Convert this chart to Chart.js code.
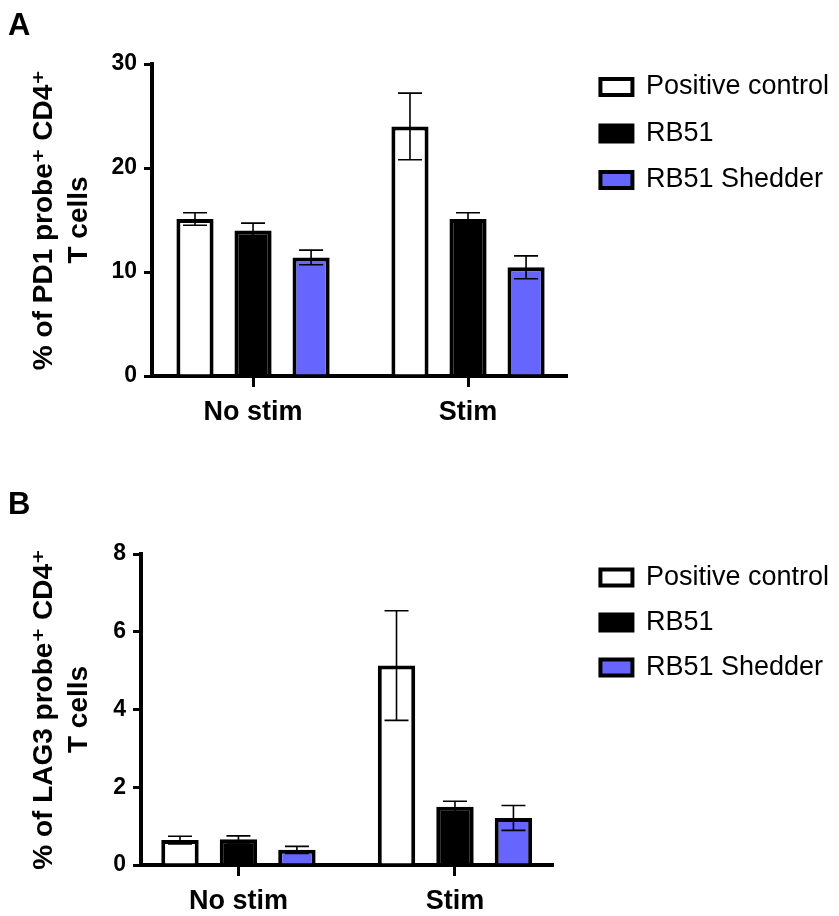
<!DOCTYPE html>
<html>
<head>
<meta charset="utf-8">
<script src="https://cdn.jsdelivr.net/npm/chart.js@4.4.1/dist/chart.umd.min.js"></script>
<style>
  body { margin: 0; background: #fff; font-family: 'Liberation Sans', Arial, sans-serif; }
  .panel { position: absolute; left: 0; width: 839px; height: 458px; }
  .letter { position: absolute; left: 8px; font-weight: bold; font-size: 31px; line-height: 1; color: #000; }
</style>
</head>
<body>
<div class="panel" style="top:0"><canvas id="chartA"></canvas></div>
<div class="panel" style="top:458px"><canvas id="chartB"></canvas></div>
<div class="letter" style="top:9px">A</div>
<div class="letter" style="top:488px">B</div>

<script>
const categories = ['No stim', 'Stim'];
const seriesNames = ['Positive control', 'RB51', 'RB51 Shedder'];
const seriesFill = ['#ffffff', '#000000', '#6666ff'];

// panel A: PD1
const pd1Positive = [15.1, 24.0];
const pd1PositiveSem = [0.6, 3.2];
const pd1Rb51 = [14.0, 15.1];
const pd1Rb51Sem = [0.7, 0.6];
const pd1Shedder = [11.4, 10.45];
const pd1ShedderSem = [0.7, 1.1];
const pd1Ticks = [0, 10, 20, 30];

// panel B: LAG3
const lagPositive = [0.64, 5.13];
const lagPositiveSem = [0.1, 1.41];
const lagRb51 = [0.66, 1.5];
const lagRb51Sem = [0.09, 0.14];
const lagShedder = [0.39, 1.21];
const lagShedderSem = [0.09, 0.32];
const lagTicks = [0, 2, 4, 6, 8];

const FONT = "'Liberation Sans', Arial, 'DejaVu Sans', sans-serif";

// draws mean +/- SEM whiskers on top of each bar
const errorBars = {
    id: 'errorBars',
    afterDatasetsDraw(chart) {
        const ctx = chart.ctx;
        const y = chart.scales.y;
        ctx.save();
        ctx.strokeStyle = '#000';
        ctx.lineWidth = 1.6;
        chart.data.datasets.forEach((ds, di) => {
            const meta = chart.getDatasetMeta(di);
            meta.data.forEach((bar, i) => {
                const v = ds.data[i].y;
                const e = ds.sem[i];
                const top = y.getPixelForValue(v + e);
                const bot = y.getPixelForValue(v - e);
                const half = 12;
                ctx.beginPath();
                ctx.moveTo(bar.x, top); ctx.lineTo(bar.x, bot);
                ctx.moveTo(bar.x - half, top); ctx.lineTo(bar.x + half, top);
                ctx.moveTo(bar.x - half, bot); ctx.lineTo(bar.x + half, bot);
                ctx.stroke();
            });
        });
        ctx.restore();
    }
};

function makePanel(id, values, sems, ticks, title, opt) {
    const datasets = seriesNames.map((name, s) => ({
        label: name,
        data: values[s].map((v, i) => ({ x: i, y: v })),
        sem: sems[s],
        backgroundColor: seriesFill[s],
        borderColor: '#000',
        borderWidth: 4,
        inflateAmount: 0,
        categoryPercentage: 0.81,
        barPercentage: 0.64
    }));

    return new Chart(document.getElementById(id), {
        type: 'bar',
        data: { datasets },
        plugins: [errorBars],
        options: {
            responsive: true,
            maintainAspectRatio: false,
            animation: false,
            layout: { padding: { top: opt.padTop, right: 0, bottom: 0, left: 0 } },
            plugins: {
                tooltip: { enabled: false },
                title: {
                    display: true, text: '', fullSize: false, padding: 0,
                    font: { size: opt.titleGap, lineHeight: 1 }
                },
                legend: {
                    position: 'right',
                    align: 'start',
                    maxWidth: 320,
                    labels: {
                        boxWidth: 32, boxHeight: 16, padding: opt.legendPad, color: '#000',
                        font: { family: FONT, size: 27 }
                    }
                }
            },
            scales: {
                x: {
                    type: 'linear',
                    offset: false,
                    min: opt.xMin, max: opt.xMax,
                    afterFit: s => { s.height = opt.xHeight; },
                    border: { color: '#000', width: 4 },
                    grid: { offset: false, drawOnChartArea: false, drawTicks: true, tickLength: 11, lineWidth: 3, color: '#000' },
                    ticks: {
                        stepSize: 1, includeBounds: false, padding: 9, color: '#000',
                        font: { family: FONT, size: 27, weight: 'bold' },
                        callback: v => categories[v] ?? ''
                    }
                },
                y: {
                    min: ticks[0], max: ticks[ticks.length - 1],
                    afterFit: s => { s.width = opt.yWidth; },
                    afterBuildTicks: s => { s.ticks = ticks.map(v => ({ value: v })); },
                    border: { color: '#000', width: 4 },
                    grid: { drawOnChartArea: false, drawTicks: true, tickLength: 8, lineWidth: 3, color: '#000' },
                    ticks: { padding: 7, color: '#000', font: { family: FONT, size: 23, weight: 'bold' } },
                    title: {
                        display: true, text: title, color: '#000',
                        padding: { top: 27, bottom: 0 },
                        font: { family: FONT, size: 28, weight: 'bold', lineHeight: 1.25 }
                    }
                },
                gap: {
                    position: 'right',
                    afterFit: s => { s.width = opt.gap; },
                    border: { display: false },
                    grid: { display: false },
                    ticks: { display: false }
                }
            }
        }
    });
}

makePanel('chartA',
    [pd1Positive, pd1Rb51, pd1Shedder],
    [pd1PositiveSem, pd1Rb51Sem, pd1ShedderSem],
    pd1Ticks,
    ['% of PD1 probe\u207A CD4\u207A', 'T cells'],
    { padTop: 54, titleGap: 10, legendPad: 19.5, xHeight: 82, yWidth: 152, gap: 14, xMin: -0.47, xMax: 1.46 });

makePanel('chartB',
    [lagPositive, lagRb51, lagShedder],
    [lagPositiveSem, lagRb51Sem, lagShedderSem],
    lagTicks,
    ['% of LAG3 probe\u207A CD4\u207A', 'T cells'],
    { padTop: 88, titleGap: 8, legendPad: 18, xHeight: 51, yWidth: 141, gap: 30, xMin: -0.45, xMax: 1.45 });
</script>
</body>
</html>
